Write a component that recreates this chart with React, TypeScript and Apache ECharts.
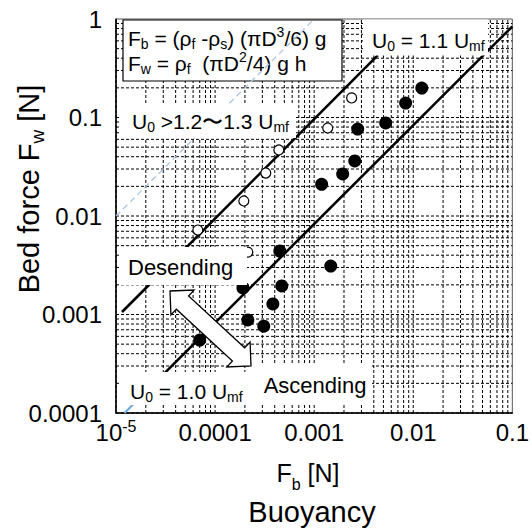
import React, { useEffect, useRef } from 'react';
import * as echarts from 'echarts';

const X_MIN = 1e-5;
const X_MAX = 0.1;
const Y_MIN = 1e-4;
const Y_MAX = 1;
const X_TICK_LABELS = ['10|-5', '0.0001', '0.001', '0.01', '0.1'];
const Y_TICK_LABELS = ['0.0001', '0.001', '0.01', '0.1', '1'];
const MANTISSAS = [1, 2, 3, 4, 5, 6, 7, 8, 9];
const X_DECADES = [-5, -4, -3, -2];
const Y_DECADES = [-4, -3, -2, -1];

// filled circles
const FILLED_X = [7.0e-5, 2.14e-4, 3.1e-4, 3.83e-4, 4.71e-4, 1.91e-4, 4.5e-4, 1.47e-3, 1.19e-3, 1.94e-3, 2.57e-3, 2.75e-3, 5.27e-3, 8.38e-3, 1.22e-2];
const FILLED_Y = [5.5e-4, 8.8e-4, 7.6e-4, 1.28e-3, 1.95e-3, 1.86e-3, 4.4e-3, 3.1e-3, 0.021, 0.0267, 0.0362, 0.0764, 0.088, 0.14, 0.199];
// open circles
const OPEN_X = [6.7e-5, 1.95e-4, 3.25e-4, 4.4e-4, 1.37e-3, 2.39e-3, 2.14e-4];
const OPEN_Y = [7.2e-3, 0.0142, 0.0273, 0.0468, 0.0782, 0.158, 4.3e-3];

// reference lines
const UPPER_LINE = [[1.15e-5, 1.06e-3], [4.4e-3, 0.43]];
const LOWER_LINE = [[2.9e-5, 2.38e-4], [0.1, 0.84]];
const BLUE_UNDER = [[1.22e-5, 1e-4], [2.9e-5, 2.38e-4]];
const BLUE_DASH = [[1e-5, 0.01], [1e-3, 1]];

const FONT = '"Liberation Sans", Arial, Helvetica, sans-serif';

const GRID_X: number[] = [];
X_DECADES.forEach((d) => MANTISSAS.forEach((m) => GRID_X.push(m * Math.pow(10, d))));
const GRID_Y: number[] = [];
Y_DECADES.forEach((d) => MANTISSAS.forEach((m) => GRID_Y.push(m * Math.pow(10, d))));

function rich(main: number, sub: number, mainLH: number) {
  return {
    m: { fontSize: main, lineHeight: mainLH, fontFamily: FONT, fill: '#000' },
    sub: { fontSize: sub, lineHeight: sub, verticalAlign: 'bottom', fontFamily: FONT, fill: '#000' },
    sup: { fontSize: sub, lineHeight: sub + 2, verticalAlign: 'top', fontFamily: FONT, fill: '#000' },
  };
}

function txt(x: number, y: number, text: string, r: any, align = 'left', rotation = 0, z = 11) {
  return {
    type: 'text',
    x,
    y,
    rotation,
    z,
    silent: true,
    style: {
      text,
      rich: r,
      align,
      textAlign: align,
      verticalAlign: 'middle',
      textVerticalAlign: 'middle',
      fill: '#000',
      fontFamily: FONT,
    },
  };
}

function box(x: number, y: number, w: number, h: number, z = 10, stroke?: string) {
  return {
    type: 'rect',
    z,
    silent: true,
    shape: { x, y, width: w, height: h },
    style: { fill: '#fff', stroke: stroke || 'none', lineWidth: stroke ? 1.2 : 0 },
  };
}

function arrowPoints(t1: number[], t2: number[], head: number, arm: number, w: number) {
  const dx = t2[0] - t1[0];
  const dy = t2[1] - t1[1];
  const L = Math.hypot(dx, dy);
  const ux = dx / L;
  const uy = dy / L;
  const vx = uy;
  const vy = -ux;
  const P = (a: number, b: number) => [t1[0] + ux * a + vx * b, t1[1] + uy * a + vy * b];
  return [P(0, 0), P(head, arm), P(head, w), P(L - head, w), P(L - head, arm), P(L, 0), P(L - head, -arm), P(L - head, -w), P(head, -w), P(head, -arm)];
}

export default function App() {
  const ref = useRef<HTMLDivElement>(null);
  useEffect(() => {
    if (!ref.current) return;
    const chart = echarts.init(ref.current, undefined, { renderer: 'svg' });
    const gridStyle = { stroke: '#000', lineWidth: 1, lineDash: [3, 2] };
    const option: any = {
      animation: false,
      grid: { left: 116, top: 19, width: 397, height: 394, show: true, borderColor: '#555', borderWidth: 1 },
      xAxis: {
        type: 'log',
        logBase: 10,
        min: X_MIN,
        max: X_MAX,
        splitLine: { show: false },
        axisTick: { show: false },
        axisLine: { show: true, lineStyle: { color: '#000', width: 1.5 } },
        axisLabel: {
          margin: 5,
          formatter: (v: number) => {
            const i = Math.round(Math.log10(v)) + 5;
            const s = X_TICK_LABELS[i] || '';
            if (s.indexOf('|') >= 0) {
              const [b, e] = s.split('|');
              return '{b|' + b + '}{s|' + e + '}';
            }
            return '{b|' + s + '}';
          },
          rich: {
            b: { fontSize: 24, lineHeight: 28, fontFamily: FONT, color: '#000' },
            s: { fontSize: 16, lineHeight: 16, verticalAlign: 'top', fontFamily: FONT, color: '#000' },
          },
        },
      },
      yAxis: {
        type: 'log',
        logBase: 10,
        min: Y_MIN,
        max: Y_MAX,
        splitLine: { show: false },
        axisTick: { show: false },
        axisLine: { show: true, lineStyle: { color: '#000', width: 1.5 } },
        axisLabel: {
          margin: 14,
          fontSize: 24,
          fontFamily: FONT,
          color: '#000',
          formatter: (v: number) => Y_TICK_LABELS[Math.round(Math.log10(v)) + 4] || '',
        },
      },
      series: [
        {
          type: 'custom',
          silent: true,
          z: 1,
          data: GRID_X.map((v) => [v, Y_MIN]),
          renderItem: (params: any, api: any) => {
            const v = api.value(0);
            const p1 = api.coord([v, Y_MIN]);
            const p2 = api.coord([v, Y_MAX]);
            return { type: 'line', shape: { x1: p1[0], y1: p1[1], x2: p2[0], y2: p2[1] }, style: gridStyle };
          },
        },
        {
          type: 'custom',
          silent: true,
          z: 1,
          data: GRID_Y.map((v) => [X_MIN, v]),
          renderItem: (params: any, api: any) => {
            const v = api.value(1);
            const p1 = api.coord([X_MIN, v]);
            const p2 = api.coord([X_MAX, v]);
            return { type: 'line', shape: { x1: p1[0], y1: p1[1], x2: p2[0], y2: p2[1] }, style: gridStyle };
          },
        },
        { type: 'line', data: BLUE_UNDER, symbol: 'none', z: 2, lineStyle: { color: '#6fa8dc', width: 2 } },
        { type: 'line', data: UPPER_LINE, symbol: 'none', z: 3, lineStyle: { color: '#000', width: 2.6 } },
        { type: 'line', data: LOWER_LINE, symbol: 'none', z: 3, lineStyle: { color: '#000', width: 2.6 } },
        {
          type: 'scatter',
          z: 4,
          symbolSize: 13,
          data: FILLED_X.map((x, i) => [x, FILLED_Y[i]]),
          itemStyle: { color: '#000', opacity: 1 },
        },
        {
          type: 'scatter',
          z: 4,
          symbolSize: 10,
          data: OPEN_X.map((x, i) => [x, OPEN_Y[i]]),
          itemStyle: { color: '#fff', borderColor: '#000', borderWidth: 1.2, opacity: 1 },
        },
        { type: 'line', data: BLUE_DASH, symbol: 'none', z: 8, lineStyle: { color: '#a9c4e4', width: 1.3, type: [6, 4] } },
      ],
      graphic: [
        box(123, 20, 219, 61, 5, '#000'),
        txt(128, 38, '{m|F}{sub|b}{m| = (ρ}{sub|f}{m| -ρ}{sub|s}{m|) (πD}{sup|3}{m|/6) g}', rich(21, 14, 26), 'left', 0, 6),
        txt(128, 63, '{m|F}{sub|w}{m| = ρ}{sub|f}{m|  (πD}{sup|2}{m|/4) g h}', rich(21, 14, 26), 'left', 0, 6),
        box(121, 104, 175, 34),
        txt(132, 121, '{m|U}{sub|0}{m| >1.2〜1.3 U}{sub|mf}', rich(21, 14, 26)),
        box(363, 19.5, 125, 36),
        txt(372, 40, '{m|U}{sub|0}{m| = 1.1 U}{sub|mf}', rich(21, 14, 26)),
        box(121, 247, 126, 38),
        txt(128, 267, '{m|Desending}', rich(22, 14, 26)),
        box(121, 372, 130, 33),
        txt(130, 391, '{m|U}{sub|0}{m| = 1.0 U}{sub|mf}', rich(21, 14, 26)),
        box(251, 365, 121, 40),
        txt(315, 385, '{m|Ascending}', rich(22, 14, 26), 'center'),
        {
          type: 'polygon',
          z: 12,
          silent: true,
          shape: { points: arrowPoints([170, 291], [251, 366], 17, 17, 9) },
          style: { fill: '#fff', stroke: '#000', lineWidth: 1.3 },
        },
        txt(29, 189, '{m|Bed force F}{sub|w}{m| [N]}', rich(29, 19, 36), 'center', Math.PI / 2, 11),
        txt(308, 473, '{m|F}{sub|b}{m| [N]}', rich(25, 16, 38), 'center', 0, 11),
        txt(312, 512, '{m|Buoyancy}', rich(29, 16, 34), 'center', 0, 11),
      ],
    };
    chart.setOption(option);
    return () => chart.dispose();
  }, []);
  return <div ref={ref} style={{ position: 'fixed', left: 0, top: 0, width: 532, height: 530, background: '#fff' }} />;
}
